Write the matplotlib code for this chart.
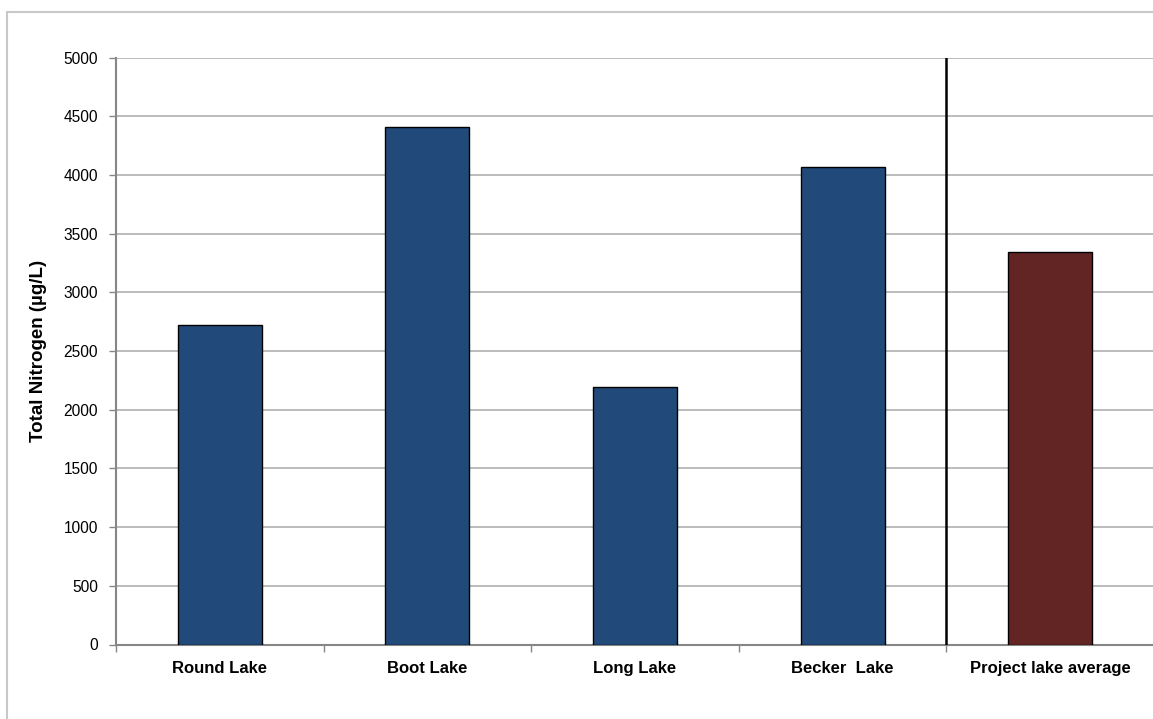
import matplotlib
matplotlib.use("Agg")
import matplotlib.pyplot as plt
from matplotlib.patches import Rectangle
import numpy as np

categories = ["Round Lake", "Boot Lake", "Long Lake", "Becker  Lake", "Project lake average"]
values = [2725, 4410, 2195, 4070, 3345]
colors = ["#214A7B", "#214A7B", "#214A7B", "#214A7B", "#632523"]
yticks = [0, 500, 1000, 1500, 2000, 2500, 3000, 3500, 4000, 4500, 5000]
ylabel = "Total Nitrogen (µg/L)"

plt.rcParams['font.family'] = ['Liberation Sans', 'DejaVu Sans']

fig = plt.figure(figsize=(11.53, 7.19), dpi=100)
# outer chart border
fig.patches.append(Rectangle((7/1153, -0.1), 1.2, 1 - 12/719 + 0.1, transform=fig.transFigure,
                             fill=False, edgecolor="#C8C8C8", linewidth=1.5, zorder=0))

ax = fig.add_axes([116/1153, 1 - 644.5/719, (1154 - 116)/1153, (644.5 - 57.5)/719])
x = np.arange(len(categories))
ax.bar(x, values, width=0.405, color=colors, edgecolor="black", linewidth=1.0, zorder=3)

ax.set_xlim(-0.5, len(categories) - 0.5)
ax.set_ylim(0, 5000)
ax.set_yticks(yticks)
ax.set_yticklabels([str(v) for v in yticks], fontsize=11.2)
ax.yaxis.grid(True, color="#B0B0B0", linewidth=1.2, zorder=0)
ax.set_axisbelow(True)

ax.set_xticks(x)
ax.set_xticklabels(categories, fontsize=12, fontweight="bold")
ax.tick_params(axis="x", which="major", length=0, pad=12)
ax.set_xticks(np.arange(-0.5, len(categories) + 0.5, 1), minor=True)
ax.tick_params(axis="x", which="minor", length=5, color="#868686", width=1)
ax.tick_params(axis="y", length=5, color="#868686", width=1, pad=8)

for side in ["top", "right"]:
    ax.spines[side].set_visible(False)
for side in ["left", "bottom"]:
    ax.spines[side].set_color("#868686")
    ax.spines[side].set_linewidth(1.5)

ax.axvline(3.5, color="black", linewidth=1.8, zorder=4, ymax=1.0)

ax.set_ylabel(ylabel, fontsize=13.5, fontweight="bold", labelpad=12)

fig.savefig("out.png", dpi=100)
